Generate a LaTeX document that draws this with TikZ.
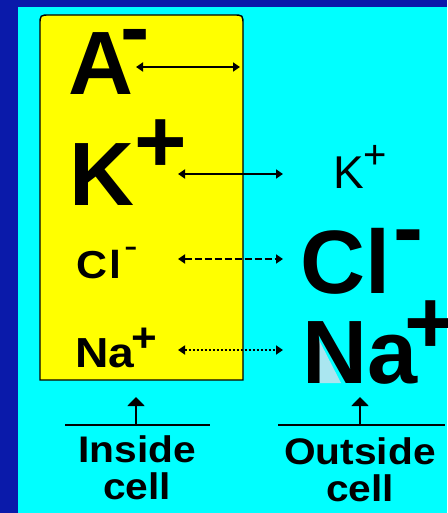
\documentclass[tikz,border=0pt]{standalone}
\usepackage{fontspec}
\setmainfont{Liberation Sans}
\newfontfamily\stretchfont[FakeStretch=1.1]{Liberation Sans}
\usetikzlibrary{arrows.meta}
\newcommand\setfs[1]{\fontsize{#1}{#1}\selectfont}
\definecolor{frameblue}{RGB}{10,26,170}
\definecolor{cellcyan}{RGB}{0,255,255}
\definecolor{cellyellow}{RGB}{255,255,0}
\definecolor{paleblue}{RGB}{170,230,240}
\tikzset{
  lbl/.style={inner sep=0pt, anchor=base west},
  ionarrow/.style={line width=1.9pt, {Triangle[length=7pt,width=9pt]}-{Triangle[length=7pt,width=9pt]}},
  uparrow/.style={line width=1.9pt, -{Triangle[length=9pt,width=17pt]}},
  baseline/.style={line width=1.9pt},
  caption/.style={inner sep=0pt, anchor=north, align=center, font=\stretchfont\bfseries\fontsize{37}{37}\selectfont}
}
\begin{document}
\begin{tikzpicture}[x=1pt,y=-1pt]
\useasboundingbox (0,0) rectangle (447,513);
\fill[frameblue] (0,0) rectangle (447,513);
\fill[cellcyan] (18,7) rectangle (447,513);
% cell
\filldraw[fill=cellyellow, draw=black, line width=1.4pt]
  (40,380) -- (40,25) .. controls (40,15) .. (50,15) -- (233,15)
  .. controls (243,15) .. (243,25) -- (243,380) -- cycle;
% pale fill in N counter
\fill[paleblue] (319,340) -- (319,383) -- (341,383) -- cycle;
% inside ions
\node[lbl] (Ain) at (68,95) {\setfs{90}\bfseries A\kern-13pt\raisebox{37pt}{\setfs{88}-}};
\node[lbl] (Kin) at (69,205) {\setfs{90}\bfseries K\raisebox{33pt}{\setfs{90}+}};
\node[lbl] (Clin) at (76,278) {\stretchfont\setfs{39}\bfseries C\kern2pt l\kern3pt\raisebox{20pt}{\mdseries\setfs{37}-}};
\node[lbl] (Nain) at (75,367) {\stretchfont\setfs{42}\bfseries Na\kern-3pt\raisebox{16pt}{\setfs{40}+}};
% outside ions
\node[lbl] (Kout) at (333,188) {\setfs{46}K\raisebox{19.5pt}{\setfs{40}+}};
\node[lbl] (Clout) at (300,293) {\setfs{90}\bfseries Cl\kern3pt\raisebox{35pt}{\setfs{90}-}};
\node[lbl] (Naout) at (302,383) {\setfs{90}\bfseries Na\kern-13pt\raisebox{30pt}{\setfs{90}+}};
% arrow ends
\coordinate (a1) at (136,67);  \coordinate (a2) at (240,67);
\coordinate (k1) at (178,174); \coordinate (k2) at (283,174);
\coordinate (c1) at (178,259); \coordinate (c2) at (283,259);
\coordinate (n1) at (178,350); \coordinate (n2) at (283,350);
\draw[ionarrow] (a1) -- (a2);
\draw[ionarrow] (k1) -- (k2);
\draw[ionarrow, dash pattern=on 7pt off 3pt] (c1) -- (c2);
\draw[ionarrow, dash pattern=on 2pt off 2pt] (n1) -- (n2);
% captions
\coordinate (inL) at (65,425); \coordinate (inR) at (210,425);
\coordinate (inM) at (136,425); \coordinate (inT) at (136,397);
\coordinate (outL) at (278,425); \coordinate (outR) at (445,425);
\coordinate (outM) at (360,425); \coordinate (outT) at (360,397);
\draw[baseline] (inL) -- (inR);
\draw[baseline] (outL) -- (outR);
\draw[uparrow] (inM) -- (inT);
\draw[uparrow] (outM) -- (outT);
\node[caption] (inside) at (137,435) {Inside\\cell};
\node[caption] (outside) at (360,437) {Outside\\cell};
\end{tikzpicture}
\end{document}
